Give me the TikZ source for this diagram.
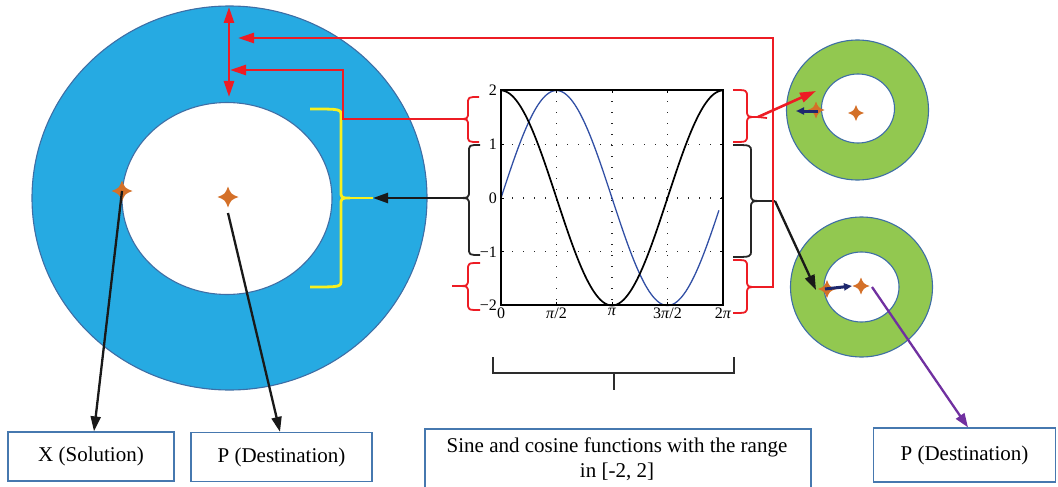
\documentclass[tikz,border=0pt]{standalone}
\usepackage{fontspec}
\setmainfont{Liberation Serif}
\usetikzlibrary{arrows.meta,calc}
\definecolor{ringblue}{RGB}{38,170,226}
\definecolor{edgeblue}{RGB}{62,110,165}
\definecolor{ringgreen}{RGB}{146,200,80}
\definecolor{myred}{RGB}{237,28,36}
\definecolor{myyellow}{RGB}{248,240,30}
\definecolor{starorange}{RGB}{212,112,40}
\definecolor{navyc}{RGB}{30,40,110}
\definecolor{mypurple}{RGB}{112,48,160}
\definecolor{curveblue}{RGB}{50,80,165}
\definecolor{boxedge}{RGB}{70,120,175}
\definecolor{darkgr}{RGB}{45,45,45}
\newcommand{\fourstar}[2]{%
 \fill[starorange,shift={(#1)}] (0,-#2) .. controls (0.28*#2,-0.28*#2) .. (#2,0)
   .. controls (0.28*#2,0.28*#2) .. (0,#2) .. controls (-0.28*#2,0.28*#2) .. (-#2,0)
   .. controls (-0.28*#2,-0.28*#2) .. (0,-#2) -- cycle;}
% style, x ends, x spine, x tip, y top, y mid, y bottom
\newcommand{\bracepath}[7]{%
 \draw[#1] (#2,#5) .. controls (#3,#5) .. (#3,#5+7) -- (#3,#6-7) .. controls (#3,#6) .. (#4,#6)
   .. controls (#3,#6) .. (#3,#6+7) -- (#3,#7-7) .. controls (#3,#7) .. (#2,#7);}
\tikzset{
  ring/.style={draw=edgeblue,line width=1.1pt},
  redln/.style={draw=myred,line width=2.6pt},
  redarr/.style={redln,-{Triangle[length=16pt,width=10pt]}},
  blkarr/.style={draw=black!90,line width=2.3pt,-{Triangle[length=15pt,width=10pt]}},
  navyarr/.style={draw=navyc,line width=3pt,-{Triangle[length=8pt,width=7pt]}},
  labelbox/.style={draw=boxedge,line width=1.2pt,font=\fontsize{21}{25}\selectfont,align=center,inner sep=0pt},
  ticklab/.style={font=\fontsize{16}{18}\selectfont,inner sep=1pt},
  gridln/.style={draw=black!85,line width=1.3pt,dash pattern=on 1.3pt off 9.7pt},
  bracew/.style={line width=1.8pt},
}
\begin{document}
\begin{tikzpicture}[x=1pt,y=-1pt]
\useasboundingbox (0,0) rectangle (1058,487);
% ---------- big blue ring ----------
\fill[ringblue,ring] (229.5,198) ellipse [x radius=197.5pt, y radius=192pt];
\fill[white,ring] (227,198.5) ellipse [x radius=105pt, y radius=96pt];
% ---------- green rings ----------
\fill[ringgreen,ring] (857.5,110) ellipse [x radius=71pt, y radius=70pt];
\fill[white,ring] (858,108.5) ellipse [x radius=36.5pt, y radius=34.5pt];
\fill[ringgreen,ring] (861.5,287) ellipse [x radius=71pt, y radius=70pt];
\fill[white,ring] (861.5,287) ellipse [x radius=37.5pt, y radius=35pt];
% ---------- coordinates ----------
\coordinate (sX) at (122,191);
\coordinate (sP) at (228,197);
\coordinate (sPb) at (228,213);
\coordinate (s1a) at (816,110);
\coordinate (s1b) at (856,113);
\coordinate (s2a) at (827,289);
\coordinate (s2b) at (861,286);
\coordinate (dblT) at (229,7);
\coordinate (dblB) at (229,97);
\coordinate (tgtA) at (230,70);
\coordinate (tgtB) at (238,38);
\coordinate (kneeA) at (343,119);
\coordinate (kneeB) at (773,287);
\coordinate (tgtC) at (816,91);
\coordinate (tgtD) at (816,290);
\coordinate (yT) at (373,198);
\coordinate (yTip) at (350,198);
\coordinate (bL1) at (458,119);
\coordinate (bL2) at (450,198);
\coordinate (bL3) at (452,286);
\coordinate (bR1) at (758,117);
\coordinate (bR1s) at (767,118);
\coordinate (bR2) at (775,201);
\coordinate (bR3) at (758,287);
\coordinate (pStart) at (872,287);
\coordinate (n1s) at (818,111);
\coordinate (n1e) at (796,111);
\coordinate (n2s) at (825,289);
\coordinate (n2e) at (852,286);
% ---------- stars ----------
\fourstar{sX}{10.5}
\fourstar{sP}{10.5}
\fourstar{s1a}{8.5}
\fourstar{s1b}{8}
\fourstar{s2a}{9}
\fourstar{s2b}{8.5}
% ---------- plot ----------
\foreach \yy in {144.25,198,251.75} \draw[gridln] (501,\yy) -- (723,\yy);
\foreach \xx in {556.5,612,667.5} \draw[gridln] (\xx,90) -- (\xx,305);
\foreach \xx in {556.5,612,667.5} {\draw[line width=1pt] (\xx,90) -- (\xx,93); \draw[line width=1pt] (\xx,305) -- (\xx,302);}
\foreach \yy in {144.25,198,251.75} {\draw[line width=1pt] (501,\yy) -- (504,\yy); \draw[line width=1pt] (723,\yy) -- (720,\yy);}
\draw[curveblue,line width=1.3pt] plot[domain=0:6.17,samples=120,smooth] ({501+\x*35.33},{198-107.5*sin(\x r)});
\draw[black,line width=1.7pt] plot[domain=0:6.2832,samples=120,smooth] ({501+\x*35.33},{198-107.5*cos(\x r)});
\draw[line width=1.2pt] (501,90) rectangle (723,305);
\node[ticklab,anchor=east] (ly2) at (498,90) {2};
\node[ticklab,anchor=east] (ly1) at (498,144.25) {1};
\node[ticklab,anchor=east] (ly0) at (498,198) {0};
\node[ticklab,anchor=east] (lym1) at (498,251.75) {−1};
\node[ticklab,anchor=east] (lym2) at (498,305) {−2};
\node[ticklab,anchor=north] (lx0) at (501,307) {0};
\node[ticklab,anchor=north] (lx1) at (556.5,307) {\textit{π}/2};
\node[ticklab,anchor=north] (lx2) at (612,307) {\textit{π}};
\node[ticklab,anchor=north] (lx3) at (667.5,307) {3\textit{π}/2};
\node[ticklab,anchor=north] (lx4) at (723,307) {2\textit{π}};
% ---------- braces ----------
\bracepath{myred,bracew}{479}{468}{458}{97}{119}{142}
\bracepath{black!85,bracew}{480}{469}{456}{145}{198}{255}
\bracepath{myred,bracew}{480}{468}{456}{263}{286}{310}
\bracepath{myred,bracew}{733}{747}{758}{90}{117}{142}
\bracepath{black!85,bracew}{733}{751}{765}{145}{201}{257}
\bracepath{myred,bracew}{733}{747}{758}{260}{287}{313}
\bracepath{myyellow,line width=2.8pt}{310}{341}{350}{109}{198}{287}
\draw[myyellow,line width=2.8pt] (yTip) -- (yT);
\draw[myred,bracew] (456,286) -- (bL3);
\draw[black!85,bracew] (456,198) -- (bL2);
\draw[myred,bracew] (bR1) -- (bR1s);
\draw[black!85,bracew] (765,201) -- (bR2);
% ---------- connectors ----------
\draw[redln,{Triangle[length=16pt,width=10pt]}-{Triangle[length=16pt,width=10pt]}] (dblT) -- (dblB);
\draw[redarr] (bL1) -- (kneeA) |- (tgtA);
\draw[redarr] (bR3) -- (kneeB) |- (tgtB);
\draw[redarr] (bR1) -- (tgtC);
\draw[blkarr] (bL2) -- (yT);
\draw[blkarr] (bR2) -- (tgtD);
\draw[navyarr] (n1s) -- (n1e);
\draw[navyarr] (n2s) -- (n2e);
% ---------- bottom bracket ----------
\coordinate (brL) at (493,357);
\coordinate (brR) at (734,357);
\coordinate (brM) at (614,373);
\coordinate (brMb) at (614,390);
\draw[darkgr,line width=1.8pt] (brL) |- (brM) -| (brR);
\draw[darkgr,line width=2.3pt] (brM) -- (brMb);
% ---------- boxes ----------
\node[labelbox,minimum width=166pt,minimum height=49pt] (bx1) at (91,456.5) {X (Solution)};
\node[labelbox,minimum width=181pt,minimum height=49pt] (bx2) at (281.5,457) {P (Destination)};
\node[labelbox,minimum width=182pt,minimum height=54pt] (bx4) at (964.5,455) {P (Destination)};
\node[align=center,inner sep=0pt,font=\fontsize{21}{25}\selectfont] (bx3) at (617,459) {Sine and cosine functions with the range\\in [-2, 2]};
\draw[boxedge,line width=1.2pt] (425,488) -- (425,429) -- (811,429) -- (811,488);
\draw[blkarr] (sX) -- ([xshift=3pt]bx1.north);
\draw[blkarr] (sPb) -- ([xshift=-1.5pt]bx2.north);
\draw[mypurple,line width=2.3pt,-{Triangle[length=14pt,width=10pt]}] (pStart) -- ([xshift=3.5pt]bx4.north);
\end{tikzpicture}
\end{document}
